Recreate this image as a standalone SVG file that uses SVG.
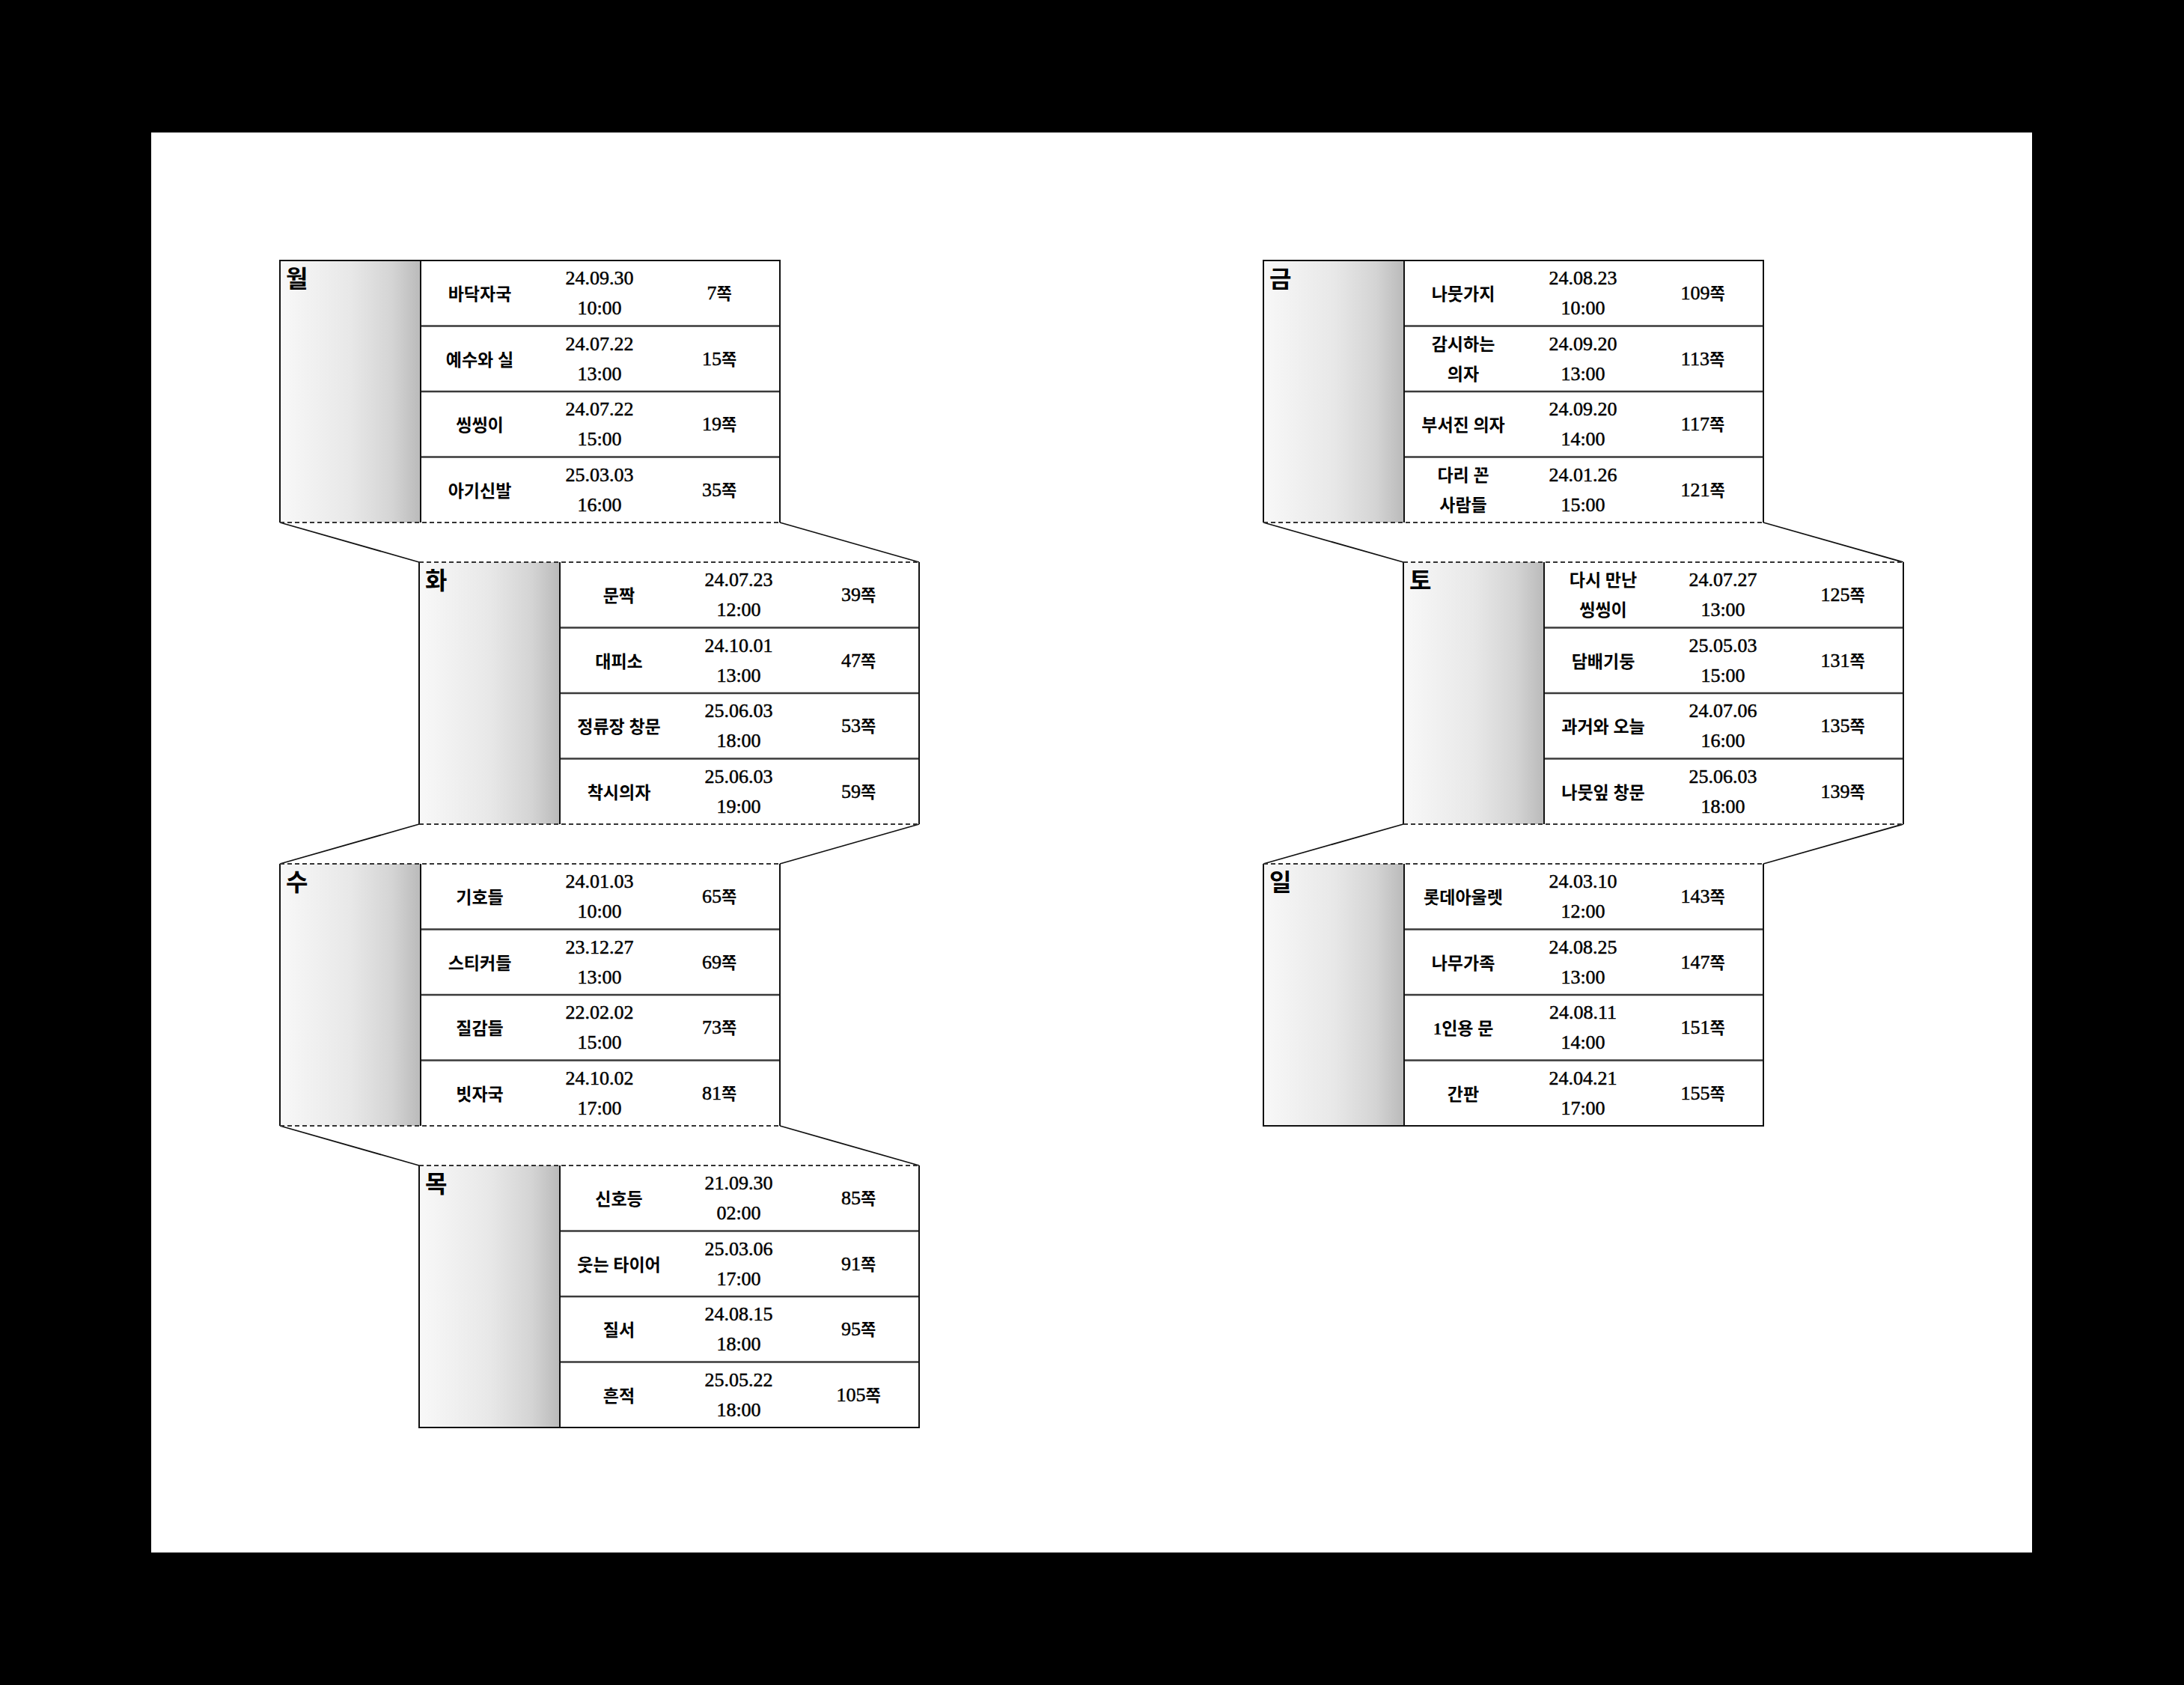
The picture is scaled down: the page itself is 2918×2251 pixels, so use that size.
<svg xmlns="http://www.w3.org/2000/svg" width="2918" height="2251" viewBox="0 0 2918 2251">
<style>
.pg{fill:#fff}
.gr{fill:url(#gg)}
.tb{fill:#fff}
.ln{stroke:#111;stroke-width:2;fill:none}
.sep{stroke:#3a3a3a;stroke-width:2.5}
.dash{stroke:#333;stroke-width:1.8;stroke-dasharray:6 4;fill:none}
.con{stroke:#111;stroke-width:1.8;fill:none}
.day{font-family:"Noto Sans CJK KR",sans-serif;font-weight:700;font-size:32px;fill:#000}
.k{font-family:"Liberation Serif","Noto Sans CJK KR",sans-serif;font-weight:700;font-size:23px;text-anchor:middle;fill:#000}
.n{font-family:"Liberation Serif",serif;font-weight:400;font-size:26px;text-anchor:middle;fill:#000;stroke:#000;stroke-width:0.5}
.p{font-family:"Liberation Serif","Noto Sans CJK KR",serif;font-weight:400;font-size:26px;text-anchor:middle;fill:#000;stroke:#000;stroke-width:0.5}
.pk{font-family:"Noto Sans CJK KR",sans-serif;font-weight:700;font-size:22px;stroke:none}
</style>
<defs>
<linearGradient id="gg" x1="0" y1="0" x2="1" y2="0">
<stop offset="0" stop-color="#f8f8f8"/>
<stop offset="0.5" stop-color="#e8e8e8"/>
<stop offset="0.8" stop-color="#d4d4d4"/>
<stop offset="1" stop-color="#bababa"/>
</linearGradient>
</defs>
<rect x="0" y="0" width="2918" height="2251" fill="#000"/>
<rect class="pg" x="202" y="177" width="2513" height="1897"/>

<g id="connectors">
<line class="con" x1="374" y1="698" x2="560" y2="751"/>
<line class="con" x1="1042" y1="698" x2="1228" y2="751"/>
<line class="con" x1="560" y1="1101" x2="374" y2="1154"/>
<line class="con" x1="1228" y1="1101" x2="1042" y2="1154"/>
<line class="con" x1="374" y1="1504" x2="560" y2="1557"/>
<line class="con" x1="1042" y1="1504" x2="1228" y2="1557"/>
<line class="con" x1="1688" y1="698" x2="1875" y2="751"/>
<line class="con" x1="2356" y1="698" x2="2543" y2="751"/>
<line class="con" x1="1875" y1="1101" x2="1688" y2="1154"/>
<line class="con" x1="2543" y1="1101" x2="2356" y2="1154"/>
</g>

<!-- 월 -->
<g id="mon">
<rect class="gr" x="374" y="348" width="188" height="350"/>
<rect class="tb" x="562" y="348" width="480" height="350"/>
<line class="sep" x1="562" y1="435.5" x2="1042" y2="435.5"/>
<line class="sep" x1="562" y1="523" x2="1042" y2="523"/>
<line class="sep" x1="562" y1="610.5" x2="1042" y2="610.5"/>
<path class="ln" d="M374,698 V348 H1042 V698 M562,348 V698"/>
<line class="dash" x1="374" y1="698" x2="1042" y2="698"/>
<text class="day" x="382" y="384">월</text>
<text class="k" x="641" y="401">바닥자국</text>
<text class="n"><tspan x="801" y="380">24.09.30</tspan><tspan x="801" y="420">10:00</tspan></text>
<text class="p" x="961" y="400">7<tspan class="pk">쪽</tspan></text>
<text class="k" x="641" y="488.5">예수와 실</text>
<text class="n"><tspan x="801" y="467.5">24.07.22</tspan><tspan x="801" y="507.5">13:00</tspan></text>
<text class="p" x="961" y="487.5">15<tspan class="pk">쪽</tspan></text>
<text class="k" x="641" y="576">씽씽이</text>
<text class="n"><tspan x="801" y="555">24.07.22</tspan><tspan x="801" y="595">15:00</tspan></text>
<text class="p" x="961" y="575">19<tspan class="pk">쪽</tspan></text>
<text class="k" x="641" y="663.5">아기신발</text>
<text class="n"><tspan x="801" y="642.5">25.03.03</tspan><tspan x="801" y="682.5">16:00</tspan></text>
<text class="p" x="961" y="662.5">35<tspan class="pk">쪽</tspan></text>
</g>

<!-- 화 -->
<g id="tue">
<rect class="gr" x="560" y="751" width="188" height="350"/>
<rect class="tb" x="748" y="751" width="480" height="350"/>
<line class="sep" x1="748" y1="838.5" x2="1228" y2="838.5"/>
<line class="sep" x1="748" y1="926" x2="1228" y2="926"/>
<line class="sep" x1="748" y1="1013.5" x2="1228" y2="1013.5"/>
<path class="ln" d="M560,751 V1101 M1228,751 V1101 M748,751 V1101"/>
<line class="dash" x1="560" y1="751" x2="1228" y2="751"/>
<line class="dash" x1="560" y1="1101" x2="1228" y2="1101"/>
<text class="day" x="568" y="787">화</text>
<text class="k" x="827" y="804">문짝</text>
<text class="n"><tspan x="987" y="783">24.07.23</tspan><tspan x="987" y="823">12:00</tspan></text>
<text class="p" x="1147" y="803">39<tspan class="pk">쪽</tspan></text>
<text class="k" x="827" y="891.5">대피소</text>
<text class="n"><tspan x="987" y="870.5">24.10.01</tspan><tspan x="987" y="910.5">13:00</tspan></text>
<text class="p" x="1147" y="890.5">47<tspan class="pk">쪽</tspan></text>
<text class="k" x="827" y="979">정류장 창문</text>
<text class="n"><tspan x="987" y="958">25.06.03</tspan><tspan x="987" y="998">18:00</tspan></text>
<text class="p" x="1147" y="978">53<tspan class="pk">쪽</tspan></text>
<text class="k" x="827" y="1066.5">착시의자</text>
<text class="n"><tspan x="987" y="1045.5">25.06.03</tspan><tspan x="987" y="1085.5">19:00</tspan></text>
<text class="p" x="1147" y="1065.5">59<tspan class="pk">쪽</tspan></text>
</g>

<!-- 수 -->
<g id="wed">
<rect class="gr" x="374" y="1154" width="188" height="350"/>
<rect class="tb" x="562" y="1154" width="480" height="350"/>
<line class="sep" x1="562" y1="1241.5" x2="1042" y2="1241.5"/>
<line class="sep" x1="562" y1="1329" x2="1042" y2="1329"/>
<line class="sep" x1="562" y1="1416.5" x2="1042" y2="1416.5"/>
<path class="ln" d="M374,1154 V1504 M1042,1154 V1504 M562,1154 V1504"/>
<line class="dash" x1="374" y1="1154" x2="1042" y2="1154"/>
<line class="dash" x1="374" y1="1504" x2="1042" y2="1504"/>
<text class="day" x="382" y="1190">수</text>
<text class="k" x="641" y="1207">기호들</text>
<text class="n"><tspan x="801" y="1186">24.01.03</tspan><tspan x="801" y="1226">10:00</tspan></text>
<text class="p" x="961" y="1206">65<tspan class="pk">쪽</tspan></text>
<text class="k" x="641" y="1294.5">스티커들</text>
<text class="n"><tspan x="801" y="1273.5">23.12.27</tspan><tspan x="801" y="1313.5">13:00</tspan></text>
<text class="p" x="961" y="1293.5">69<tspan class="pk">쪽</tspan></text>
<text class="k" x="641" y="1382">질감들</text>
<text class="n"><tspan x="801" y="1361">22.02.02</tspan><tspan x="801" y="1401">15:00</tspan></text>
<text class="p" x="961" y="1381">73<tspan class="pk">쪽</tspan></text>
<text class="k" x="641" y="1469.5">빗자국</text>
<text class="n"><tspan x="801" y="1448.5">24.10.02</tspan><tspan x="801" y="1488.5">17:00</tspan></text>
<text class="p" x="961" y="1468.5">81<tspan class="pk">쪽</tspan></text>
</g>

<!-- 목 -->
<g id="thu">
<rect class="gr" x="560" y="1557" width="188" height="350"/>
<rect class="tb" x="748" y="1557" width="480" height="350"/>
<line class="sep" x1="748" y1="1644.5" x2="1228" y2="1644.5"/>
<line class="sep" x1="748" y1="1732" x2="1228" y2="1732"/>
<line class="sep" x1="748" y1="1819.5" x2="1228" y2="1819.5"/>
<path class="ln" d="M560,1557 V1907 H1228 V1557 M748,1557 V1907"/>
<line class="dash" x1="560" y1="1557" x2="1228" y2="1557"/>
<text class="day" x="568" y="1593">목</text>
<text class="k" x="827" y="1610">신호등</text>
<text class="n"><tspan x="987" y="1589">21.09.30</tspan><tspan x="987" y="1629">02:00</tspan></text>
<text class="p" x="1147" y="1609">85<tspan class="pk">쪽</tspan></text>
<text class="k" x="827" y="1697.5">웃는 타이어</text>
<text class="n"><tspan x="987" y="1676.5">25.03.06</tspan><tspan x="987" y="1716.5">17:00</tspan></text>
<text class="p" x="1147" y="1696.5">91<tspan class="pk">쪽</tspan></text>
<text class="k" x="827" y="1785">질서</text>
<text class="n"><tspan x="987" y="1764">24.08.15</tspan><tspan x="987" y="1804">18:00</tspan></text>
<text class="p" x="1147" y="1784">95<tspan class="pk">쪽</tspan></text>
<text class="k" x="827" y="1872.5">흔적</text>
<text class="n"><tspan x="987" y="1851.5">25.05.22</tspan><tspan x="987" y="1891.5">18:00</tspan></text>
<text class="p" x="1147" y="1871.5">105<tspan class="pk">쪽</tspan></text>
</g>

<!-- 금 -->
<g id="fri">
<rect class="gr" x="1688" y="348" width="188" height="350"/>
<rect class="tb" x="1876" y="348" width="480" height="350"/>
<line class="sep" x1="1876" y1="435.5" x2="2356" y2="435.5"/>
<line class="sep" x1="1876" y1="523" x2="2356" y2="523"/>
<line class="sep" x1="1876" y1="610.5" x2="2356" y2="610.5"/>
<path class="ln" d="M1688,698 V348 H2356 V698 M1876,348 V698"/>
<line class="dash" x1="1688" y1="698" x2="2356" y2="698"/>
<text class="day" x="1696" y="384">금</text>
<text class="k" x="1955" y="401">나뭇가지</text>
<text class="n"><tspan x="2115" y="380">24.08.23</tspan><tspan x="2115" y="420">10:00</tspan></text>
<text class="p" x="2275" y="400">109<tspan class="pk">쪽</tspan></text>
<text class="k"><tspan x="1955" y="467.5">감시하는</tspan><tspan x="1955" y="507.5">의자</tspan></text>
<text class="n"><tspan x="2115" y="467.5">24.09.20</tspan><tspan x="2115" y="507.5">13:00</tspan></text>
<text class="p" x="2275" y="487.5">113<tspan class="pk">쪽</tspan></text>
<text class="k" x="1955" y="576">부서진 의자</text>
<text class="n"><tspan x="2115" y="555">24.09.20</tspan><tspan x="2115" y="595">14:00</tspan></text>
<text class="p" x="2275" y="575">117<tspan class="pk">쪽</tspan></text>
<text class="k"><tspan x="1955" y="642.5">다리 꼰</tspan><tspan x="1955" y="682.5">사람들</tspan></text>
<text class="n"><tspan x="2115" y="642.5">24.01.26</tspan><tspan x="2115" y="682.5">15:00</tspan></text>
<text class="p" x="2275" y="662.5">121<tspan class="pk">쪽</tspan></text>
</g>

<!-- 토 -->
<g id="sat">
<rect class="gr" x="1875" y="751" width="188" height="350"/>
<rect class="tb" x="2063" y="751" width="480" height="350"/>
<line class="sep" x1="2063" y1="838.5" x2="2543" y2="838.5"/>
<line class="sep" x1="2063" y1="926" x2="2543" y2="926"/>
<line class="sep" x1="2063" y1="1013.5" x2="2543" y2="1013.5"/>
<path class="ln" d="M1875,751 V1101 M2543,751 V1101 M2063,751 V1101"/>
<line class="dash" x1="1875" y1="751" x2="2543" y2="751"/>
<line class="dash" x1="1875" y1="1101" x2="2543" y2="1101"/>
<text class="day" x="1883" y="787">토</text>
<text class="k"><tspan x="2142" y="783">다시 만난</tspan><tspan x="2142" y="823">씽씽이</tspan></text>
<text class="n"><tspan x="2302" y="783">24.07.27</tspan><tspan x="2302" y="823">13:00</tspan></text>
<text class="p" x="2462" y="803">125<tspan class="pk">쪽</tspan></text>
<text class="k" x="2142" y="891.5">담배기둥</text>
<text class="n"><tspan x="2302" y="870.5">25.05.03</tspan><tspan x="2302" y="910.5">15:00</tspan></text>
<text class="p" x="2462" y="890.5">131<tspan class="pk">쪽</tspan></text>
<text class="k" x="2142" y="979">과거와 오늘</text>
<text class="n"><tspan x="2302" y="958">24.07.06</tspan><tspan x="2302" y="998">16:00</tspan></text>
<text class="p" x="2462" y="978">135<tspan class="pk">쪽</tspan></text>
<text class="k" x="2142" y="1066.5">나뭇잎 창문</text>
<text class="n"><tspan x="2302" y="1045.5">25.06.03</tspan><tspan x="2302" y="1085.5">18:00</tspan></text>
<text class="p" x="2462" y="1065.5">139<tspan class="pk">쪽</tspan></text>
</g>

<!-- 일 -->
<g id="sun">
<rect class="gr" x="1688" y="1154" width="188" height="350"/>
<rect class="tb" x="1876" y="1154" width="480" height="350"/>
<line class="sep" x1="1876" y1="1241.5" x2="2356" y2="1241.5"/>
<line class="sep" x1="1876" y1="1329" x2="2356" y2="1329"/>
<line class="sep" x1="1876" y1="1416.5" x2="2356" y2="1416.5"/>
<path class="ln" d="M1688,1154 V1504 H2356 V1154 M1876,1154 V1504"/>
<line class="dash" x1="1688" y1="1154" x2="2356" y2="1154"/>
<text class="day" x="1696" y="1190">일</text>
<text class="k" x="1955" y="1207">롯데아울렛</text>
<text class="n"><tspan x="2115" y="1186">24.03.10</tspan><tspan x="2115" y="1226">12:00</tspan></text>
<text class="p" x="2275" y="1206">143<tspan class="pk">쪽</tspan></text>
<text class="k" x="1955" y="1294.5">나무가족</text>
<text class="n"><tspan x="2115" y="1273.5">24.08.25</tspan><tspan x="2115" y="1313.5">13:00</tspan></text>
<text class="p" x="2275" y="1293.5">147<tspan class="pk">쪽</tspan></text>
<text class="k" x="1955" y="1382">1인용 문</text>
<text class="n"><tspan x="2115" y="1361">24.08.11</tspan><tspan x="2115" y="1401">14:00</tspan></text>
<text class="p" x="2275" y="1381">151<tspan class="pk">쪽</tspan></text>
<text class="k" x="1955" y="1469.5">간판</text>
<text class="n"><tspan x="2115" y="1448.5">24.04.21</tspan><tspan x="2115" y="1488.5">17:00</tspan></text>
<text class="p" x="2275" y="1468.5">155<tspan class="pk">쪽</tspan></text>
</g>
</svg>
